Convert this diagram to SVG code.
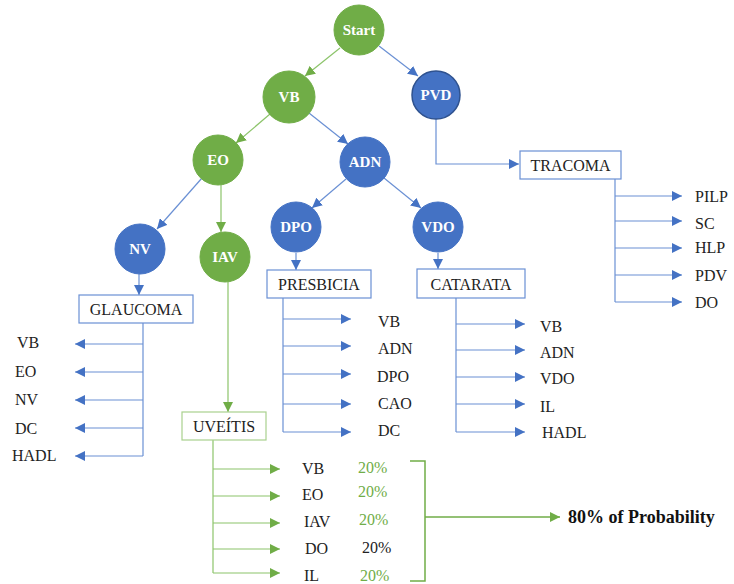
<svg xmlns="http://www.w3.org/2000/svg" width="734" height="584" viewBox="0 0 734 584">
<defs>
<marker id="ab" viewBox="0 0 10 10" refX="10" refY="5" markerWidth="10" markerHeight="10" markerUnits="userSpaceOnUse" orient="auto"><path d="M0,0 L10,5 L0,10 z" fill="#4472C4"/></marker>
<marker id="ag" viewBox="0 0 10 10" refX="10" refY="5" markerWidth="10" markerHeight="10" markerUnits="userSpaceOnUse" orient="auto"><path d="M0,0 L10,5 L0,10 z" fill="#70AD47"/></marker>
<style>
text{font-family:'Liberation Serif','Times New Roman','DejaVu Serif',serif}
.g{fill:#70AD47;stroke:#70AD47;stroke-width:1}
.b{fill:#4472C4;stroke:#4472C4;stroke-width:1}
.bd{fill:#4472C4;stroke:#2F528F;stroke-width:1.5}
.nt{font-weight:bold;font-size:15px;fill:#fff;text-anchor:middle;dominant-baseline:central}
.bx{fill:#fff;stroke:#6A90D4;stroke-width:1.2}
.bxg{fill:#fff;stroke:#A9D18E;stroke-width:1.2}
.bt{font-size:16px;fill:#222;text-anchor:middle;dominant-baseline:central}
.lt{font-size:16px;fill:#222;dominant-baseline:central}
.pg{font-size:16px;fill:#70AD47;dominant-baseline:central}
.pk{font-size:16px;fill:#222;dominant-baseline:central}
.big{font-size:18px;font-weight:bold;fill:#111;dominant-baseline:central}
.lb{fill:none;stroke:#6A90D4;stroke-width:1.2}
.lg{fill:none;stroke:#8CC46A;stroke-width:1.2}
.lgd{fill:none;stroke:#70AD47;stroke-width:1.5}
</style>
</defs>
<rect width="734" height="584" fill="#fff"/>
<g id="connectors">
<line class="lg" x1="340" y1="48" x2="305" y2="76" marker-end="url(#ag)"/>
<line class="lb" x1="379" y1="46" x2="418" y2="76" marker-end="url(#ab)"/>
<line class="lg" x1="270" y1="114" x2="236" y2="143" marker-end="url(#ag)"/>
<line class="lb" x1="309" y1="113" x2="348" y2="144" marker-end="url(#ab)"/>
<line class="lb" x1="202" y1="178" x2="157" y2="229" marker-end="url(#ab)"/>
<line class="lg" x1="221" y1="185" x2="221" y2="232" marker-end="url(#ag)"/>
<line class="lb" x1="346" y1="179" x2="312" y2="208" marker-end="url(#ab)"/>
<line class="lb" x1="384" y1="178" x2="421" y2="208" marker-end="url(#ab)"/>
<polyline class="lb" points="436,119 436,164 519,164" marker-end="url(#ab)"/>
<line class="lb" x1="296" y1="253" x2="296" y2="270" marker-end="url(#ab)"/>
<line class="lb" x1="438" y1="253" x2="438" y2="269" marker-end="url(#ab)"/>
<line class="lb" x1="139" y1="274" x2="139" y2="295" marker-end="url(#ab)"/>
<line class="lg" x1="228" y1="282" x2="228" y2="412" marker-end="url(#ag)"/>
<polyline class="lb" points="143,323 143,456"/>
<line class="lb" x1="143" y1="344" x2="75" y2="344" marker-end="url(#ab)"/>
<line class="lb" x1="143" y1="372" x2="75" y2="372" marker-end="url(#ab)"/>
<line class="lb" x1="143" y1="400" x2="75" y2="400" marker-end="url(#ab)"/>
<line class="lb" x1="143" y1="428" x2="75" y2="428" marker-end="url(#ab)"/>
<line class="lb" x1="143" y1="456" x2="75" y2="456" marker-end="url(#ab)"/>
<polyline class="lb" points="283,298 283,432"/>
<line class="lb" x1="283" y1="319" x2="351" y2="319" marker-end="url(#ab)"/>
<line class="lb" x1="283" y1="346" x2="351" y2="346" marker-end="url(#ab)"/>
<line class="lb" x1="283" y1="374" x2="351" y2="374" marker-end="url(#ab)"/>
<line class="lb" x1="283" y1="404" x2="351" y2="404" marker-end="url(#ab)"/>
<line class="lb" x1="283" y1="432" x2="351" y2="432" marker-end="url(#ab)"/>
<polyline class="lb" points="456,298 456,432"/>
<line class="lb" x1="456" y1="324" x2="525" y2="324" marker-end="url(#ab)"/>
<line class="lb" x1="456" y1="350" x2="525" y2="350" marker-end="url(#ab)"/>
<line class="lb" x1="456" y1="377" x2="525" y2="377" marker-end="url(#ab)"/>
<line class="lb" x1="456" y1="404" x2="525" y2="404" marker-end="url(#ab)"/>
<line class="lb" x1="456" y1="432" x2="525" y2="432" marker-end="url(#ab)"/>
<polyline class="lb" points="615,179 615,302"/>
<line class="lb" x1="615" y1="196" x2="682" y2="196" marker-end="url(#ab)"/>
<line class="lb" x1="615" y1="221" x2="682" y2="221" marker-end="url(#ab)"/>
<line class="lb" x1="615" y1="248" x2="682" y2="248" marker-end="url(#ab)"/>
<line class="lb" x1="615" y1="275" x2="682" y2="275" marker-end="url(#ab)"/>
<line class="lb" x1="615" y1="302" x2="682" y2="302" marker-end="url(#ab)"/>
<polyline class="lg" points="213,440 213,573"/>
<line class="lg" x1="213" y1="469" x2="280" y2="469" marker-end="url(#ag)"/>
<line class="lg" x1="213" y1="496" x2="280" y2="496" marker-end="url(#ag)"/>
<line class="lg" x1="213" y1="523" x2="280" y2="523" marker-end="url(#ag)"/>
<line class="lg" x1="213" y1="549" x2="280" y2="549" marker-end="url(#ag)"/>
<line class="lg" x1="213" y1="573" x2="280" y2="573" marker-end="url(#ag)"/>
<polyline class="lgd" points="410,461 425,461 425,581 410,581"/>
<line class="lgd" x1="425" y1="517" x2="560" y2="517" marker-end="url(#ag)"/>
</g>
<g id="Start"><circle class="g" cx="359" cy="30" r="25"/><text class="nt" x="359" y="30">Start</text></g>
<g id="VB"><circle class="g" cx="289" cy="97" r="26"/><text class="nt" x="289" y="97">VB</text></g>
<g id="PVD"><circle class="bd" cx="436" cy="95" r="24"/><text class="nt" x="436" y="95">PVD</text></g>
<g id="EO"><circle class="g" cx="218" cy="160" r="25"/><text class="nt" x="218" y="160">EO</text></g>
<g id="ADN"><circle class="b" cx="365" cy="162" r="25"/><text class="nt" x="365" y="162">ADN</text></g>
<g id="NV"><circle class="b" cx="140" cy="249" r="25"/><text class="nt" x="140" y="249">NV</text></g>
<g id="IAV"><circle class="g" cx="225" cy="257" r="25"/><text class="nt" x="225" y="257">IAV</text></g>
<g id="DPO"><circle class="b" cx="296" cy="227" r="25"/><text class="nt" x="296" y="227">DPO</text></g>
<g id="VDO"><circle class="b" cx="438" cy="227" r="25"/><text class="nt" x="438" y="227">VDO</text></g>
<g id="TRACOMA"><rect class="bx" x="520" y="151" width="101" height="28"/><text class="bt" x="570.5" y="165">TRACOMA</text></g>
<g id="PRESBICIA"><rect class="bx" x="267" y="270" width="104" height="28"/><text class="bt" x="319" y="284">PRESBICIA</text></g>
<g id="CATARATA"><rect class="bx" x="417" y="269" width="108" height="29"/><text class="bt" x="471" y="284">CATARATA</text></g>
<g id="GLAUCOMA"><rect class="bx" x="79" y="295" width="114" height="28"/><text class="bt" x="136" y="309">GLAUCOMA</text></g>
<g id="UVEITIS"><rect class="bxg" x="182" y="412" width="84" height="28"/><text class="bt" x="224" y="426">UVEÍTIS</text></g>
<g id="leaves">
<text class="lt" x="17" y="342">VB</text>
<text class="lt" x="15" y="371">EO</text>
<text class="lt" x="15" y="399">NV</text>
<text class="lt" x="15" y="428">DC</text>
<text class="lt" x="12" y="455">HADL</text>
<text class="lt" x="378" y="321">VB</text>
<text class="lt" x="378" y="348">ADN</text>
<text class="lt" x="377" y="376">DPO</text>
<text class="lt" x="378" y="403">CAO</text>
<text class="lt" x="378" y="430">DC</text>
<text class="lt" x="540" y="326">VB</text>
<text class="lt" x="540" y="352">ADN</text>
<text class="lt" x="540" y="378">VDO</text>
<text class="lt" x="540" y="406">IL</text>
<text class="lt" x="542" y="432">HADL</text>
<text class="lt" x="695" y="196">PILP</text>
<text class="lt" x="695" y="223">SC</text>
<text class="lt" x="695" y="247">HLP</text>
<text class="lt" x="695" y="275">PDV</text>
<text class="lt" x="695" y="302">DO</text>
<text class="lt" x="302" y="468">VB</text>
<text class="lt" x="302" y="494">EO</text>
<text class="lt" x="304" y="521">IAV</text>
<text class="lt" x="305" y="548">DO</text>
<text class="lt" x="304" y="575">IL</text>
<text class="pg" x="358" y="467">20%</text>
<text class="pg" x="358" y="491">20%</text>
<text class="pg" x="359" y="519">20%</text>
<text class="pk" x="362" y="547">20%</text>
<text class="pg" x="360" y="575">20%</text>
<text class="big" x="568" y="517">80% of Probability</text>
</g>
</svg>
